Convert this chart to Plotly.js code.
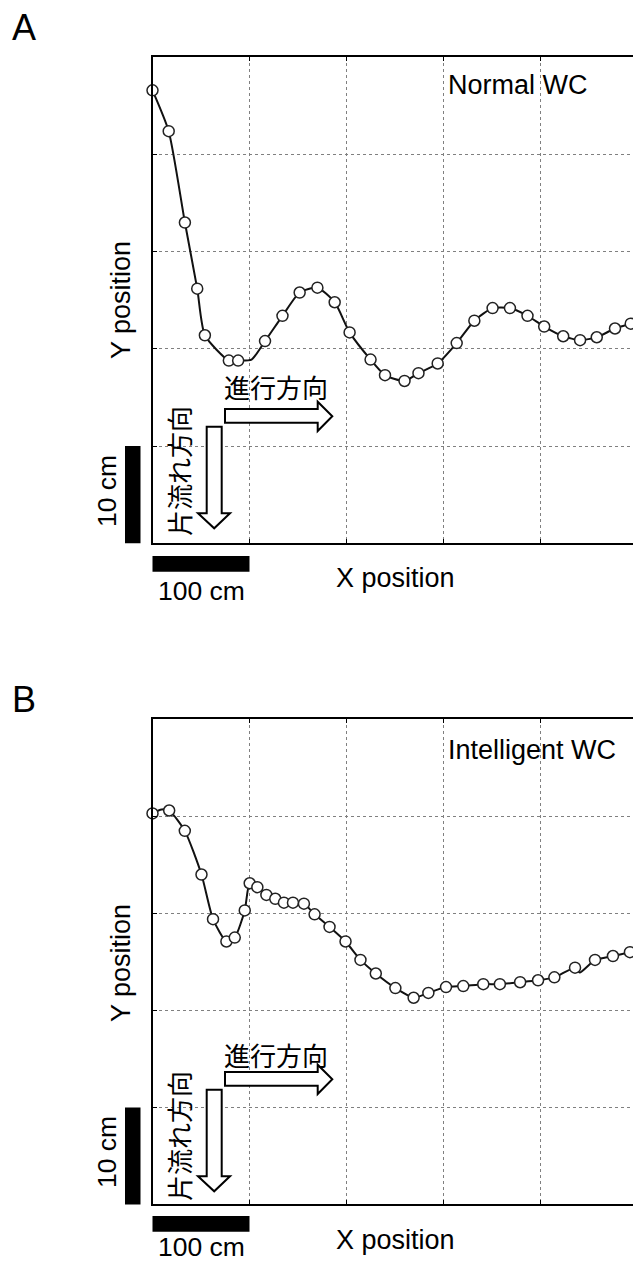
<!DOCTYPE html>
<html>
<head>
<meta charset="utf-8">
<script src="https://cdn.plot.ly/plotly-3.0.1.min.js"></script>
<style>
html,body{margin:0;padding:0;overflow:hidden;background:#fff;}
#chart{width:640px;height:1264px;}
</style>
</head>
<body>
<div id="chart"></div>
<script>
// ---- Data (cm) ----
// Panel A: Normal WC
const aPathX = [0, 16.7, 33.4, 46.1, 54.0, 78.7, 88.3, 102.1, 116.0, 134.0, 151.7, 170.0, 187.8, 203.2, 224.8, 239.7, 259.8, 274.2, 294.0, 313.6, 331.8, 350.6, 368.5, 386.6, 403.8, 423.4, 440.8, 458.0, 476.8, 493.0, 500];
const aPathY = [46.6, 42.4, 33.0, 26.2, 21.4, 18.8, 18.8, 18.9, 20.8, 23.4, 25.8, 26.3, 24.8, 21.7, 18.9, 17.3, 16.7, 17.5, 18.5, 20.6, 22.9, 24.2, 24.2, 23.4, 22.3, 21.3, 20.9, 21.2, 22.1, 22.6, 23.0];
const aMarkX = [0, 16.7, 33.4, 46.1, 54.0, 78.7, 88.3, 116.0, 134.0, 151.7, 170.0, 187.8, 203.2, 224.8, 239.7, 259.8, 274.2, 294.0, 313.6, 331.8, 350.6, 368.5, 386.6, 403.8, 423.4, 440.8, 458.0, 476.8, 493.0];
const aMarkY = [46.6, 42.4, 33.0, 26.2, 21.4, 18.8, 18.8, 20.8, 23.4, 25.8, 26.3, 24.8, 21.7, 18.9, 17.3, 16.7, 17.5, 18.5, 20.6, 22.9, 24.2, 24.2, 23.4, 22.3, 21.3, 20.9, 21.2, 22.1, 22.6];

// Panel B: Intelligent WC
const bPathX = [0, 9.4, 17.2, 33.3, 50.5, 62.4, 76.2, 84.8, 95.1, 100.2, 108.1, 117.4, 126.6, 135.5, 144.8, 156.1, 167.1, 182.5, 199.0, 214.4, 230.2, 250.4, 269.2, 284.4, 302.6, 320.4, 341.0, 358.1, 379.0, 397.5, 414.3, 435.6, 440.4, 456.2, 474.7, 492.2, 500];
const bPathY = [40.3, 40.7, 40.6, 38.5, 34.0, 29.4, 27.1, 27.5, 30.3, 33.1, 32.7, 31.9, 31.5, 31.1, 31.1, 31.0, 29.9, 28.6, 27.1, 25.2, 23.8, 22.3, 21.3, 21.8, 22.4, 22.5, 22.7, 22.7, 22.9, 23.1, 23.4, 24.4, 23.9, 25.2, 25.6, 26.0, 26.2];
const bMarkX = [0, 17.2, 33.3, 50.5, 62.4, 76.2, 84.8, 95.1, 100.2, 108.1, 117.4, 126.6, 135.5, 144.8, 156.1, 167.1, 182.5, 199.0, 214.4, 230.2, 250.4, 269.2, 284.4, 302.6, 320.4, 341.0, 358.1, 379.0, 397.5, 414.3, 435.6, 456.2, 474.7, 492.2];
const bMarkY = [40.3, 40.6, 38.5, 34.0, 29.4, 27.1, 27.5, 30.3, 33.1, 32.7, 31.9, 31.5, 31.1, 31.1, 31.0, 29.9, 28.6, 27.1, 25.2, 23.8, 22.3, 21.3, 21.8, 22.4, 22.5, 22.7, 22.7, 22.9, 23.1, 23.4, 24.4, 25.2, 25.6, 26.0];

const panelLabels = ["A", "B"];
const wcLabels = ["Normal WC", "Intelligent WC"];
const xTitle = "X position";
const yTitle = "Y position";
const xScaleText = "100 cm";
const yScaleText = "10 cm";
const forwardText = "進行方向";
const slopeText = "片流れ方向";

// ---- Layout helpers ----
const W = 640, H = 1264;
const px = x => x / W;
const py = y => 1 - y / H;
const LAT = "Liberation Sans, Arial, sans-serif";
const CJK = "Noto Sans CJK JP, sans-serif";

function xAxis(dom, anchor) {
  return {domain: dom, range: [0, 500], anchor: anchor, showline: true, mirror: 'ticks',
    linecolor: '#000', linewidth: 2, ticks: 'inside', ticklen: 4, tickwidth: 1, tickcolor: '#000',
    tick0: 0, dtick: 100, showticklabels: false, showgrid: true, gridcolor: '#808080',
    griddash: 'dot', gridwidth: 1, zeroline: false, fixedrange: true};
}
function yAxis(dom, anchor) {
  return {domain: dom, range: [0, 50], anchor: anchor, showline: true, mirror: 'ticks',
    linecolor: '#000', linewidth: 2, ticks: 'inside', ticklen: 4, tickwidth: 1, tickcolor: '#000',
    tick0: 0, dtick: 10, showticklabels: false, showgrid: true, gridcolor: '#808080',
    griddash: 'dot', gridwidth: 1, zeroline: false, fixedrange: true};
}

function pathTrace(xs, ys, xa, ya) {
  return {x: xs, y: ys, xaxis: xa, yaxis: ya, mode: 'lines', type: 'scatter',
    line: {color: '#111', width: 2, shape: 'spline', smoothing: 0.6},
    hoverinfo: 'skip', showlegend: false, cliponaxis: true};
}
function markTrace(xs, ys, xa, ya) {
  return {x: xs, y: ys, xaxis: xa, yaxis: ya, mode: 'markers', type: 'scatter',
    marker: {symbol: 'circle', size: 11, color: '#fff', line: {color: '#222', width: 1.5}},
    hoverinfo: 'skip', showlegend: false, cliponaxis: false};
}

function pathStr(pts) {
  return 'M' + pts.map(p => px(p[0]).toFixed(5) + ',' + py(p[1]).toFixed(5)).join(' L') + ' Z';
}

const shapes = [];
const annotations = [];

function addPanel(i, dy, dyText) {
  const xa = i === 0 ? 'x' : 'x2';
  const ya = i === 0 ? 'y' : 'y2';
  // right arrow (進行方向)
  shapes.push({type: 'path', xref: 'paper', yref: 'paper', layer: 'above',
    path: pathStr([[225, 409 + dy], [317.7, 409 + dy], [317.7, 401.7 + dy], [332.3, 416.3 + dy],
                   [317.7, 431 + dy], [317.7, 422.7 + dy], [225, 422.7 + dy]]),
    fillcolor: '#fff', line: {color: '#000', width: 2}});
  // down arrow (片流れ方向)
  shapes.push({type: 'path', xref: 'paper', yref: 'paper', layer: 'above',
    path: pathStr([[206.7, 426.7 + dy], [221.7, 426.7 + dy], [221.7, 513.3 + dy], [230, 513.3 + dy],
                   [214.2, 528.3 + dy], [198, 513.3 + dy], [206.7, 513.3 + dy]]),
    fillcolor: '#fff', line: {color: '#000', width: 2}});
  // scale bars tied to the axes' domains (100 cm of 500, 10 cm of 50)
  shapes.push({type: 'rect', xref: xa + ' domain', yref: 'paper', x0: 0, x1: 100 / 500,
    y0: py(556 + dyText.sb), y1: py(571.7 + dyText.sb), fillcolor: '#000', line: {width: 0}});
  shapes.push({type: 'rect', xref: 'paper', yref: ya + ' domain', x0: px(125), x1: px(140.5),
    y0: 0, y1: 10 / 50, fillcolor: '#000', line: {width: 0}});

  annotations.push(
    {text: panelLabels[i], xref: 'paper', yref: 'paper', x: px(10), y: py(dyText.label),
     xanchor: 'left', yanchor: 'middle', showarrow: false, font: {family: LAT, size: 36, color: '#000'}},
    {text: wcLabels[i], xref: 'paper', yref: 'paper', x: px(446), y: py(dyText.wc),
     xanchor: 'left', yanchor: 'middle', showarrow: false, font: {family: LAT, size: 27, color: '#000'}},
    {text: yTitle, xref: 'paper', yref: 'paper', x: px(121), y: py(300 + dy),
     xanchor: 'center', yanchor: 'middle', textangle: -90, showarrow: false, font: {family: LAT, size: 27, color: '#000'}},
    {text: xTitle, xref: 'paper', yref: 'paper', x: px(395), y: py(dyText.xt),
     xanchor: 'center', yanchor: 'middle', showarrow: false, font: {family: LAT, size: 27, color: '#000'}},
    {text: xScaleText, xref: 'paper', yref: 'paper', x: px(201.5), y: py(dyText.xs),
     xanchor: 'center', yanchor: 'middle', showarrow: false, font: {family: LAT, size: 26.5, color: '#000'}},
    {text: yScaleText, xref: 'paper', yref: 'paper', x: px(107), y: py(dyText.ys),
     xanchor: 'center', yanchor: 'middle', textangle: -90, showarrow: false, font: {family: LAT, size: 26.5, color: '#000'}},
    {text: forwardText, xref: 'paper', yref: 'paper', x: px(222), y: py(dyText.fw),
     xanchor: 'left', yanchor: 'middle', showarrow: false, font: {family: CJK, size: 26, color: '#000'}},
    {text: slopeText, xref: 'paper', yref: 'paper', x: px(178.5), y: py(dyText.sl),
     xanchor: 'center', yanchor: 'middle', textangle: -90, showarrow: false, font: {family: CJK, size: 26, color: '#000'}}
  );
}

addPanel(0, 0, {sb: 0, label: 27.5, wc: 85, xt: 578, xs: 591, ys: 491, fw: 386.5, sl: 471.5});
addPanel(1, 663, {sb: 660, label: 700, wc: 750, xt: 1240, xs: 1247, ys: 1152, fw: 1054, sl: 1136.5});

const data = [
  pathTrace(aPathX, aPathY, 'x', 'y'),
  markTrace(aMarkX, aMarkY, 'x', 'y'),
  pathTrace(bPathX, bPathY, 'x2', 'y2'),
  markTrace(bMarkX, bMarkY, 'x2', 'y2')
];

const xdom = [px(152.5), px(637.5)];
const layout = {
  width: W, height: H, autosize: false,
  margin: {l: 0, r: 0, t: 0, b: 0},
  paper_bgcolor: '#fff', plot_bgcolor: '#fff',
  showlegend: false,
  xaxis: xAxis(xdom, 'y'),
  yaxis: yAxis([py(543.3), py(57.3)], 'x'),
  xaxis2: xAxis(xdom, 'y2'),
  yaxis2: yAxis([py(1204.4), py(719.3)], 'x2'),
  shapes: shapes,
  annotations: annotations
};

Plotly.newPlot('chart', data, layout, {displayModeBar: false, staticPlot: true});
</script>
</body>
</html>
